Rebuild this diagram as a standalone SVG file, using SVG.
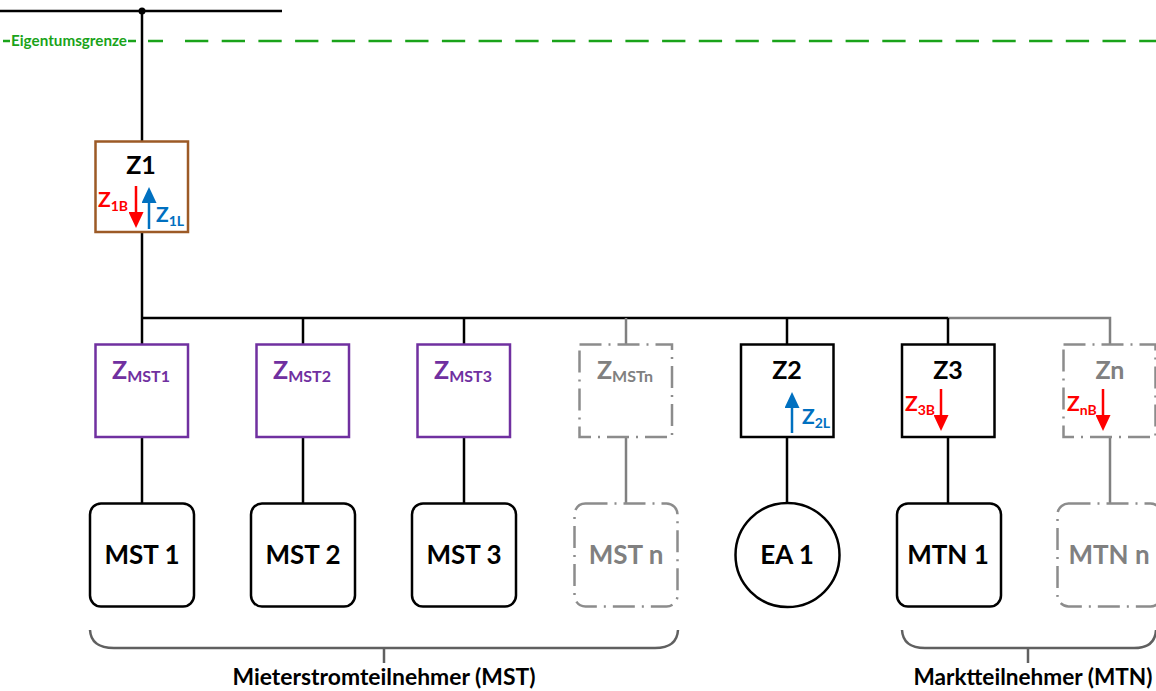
<svg xmlns="http://www.w3.org/2000/svg" width="1156" height="691" viewBox="0 0 1156 691">
<defs>
<marker id="ah-red" viewBox="0 0 16 15" refX="0" refY="7.5" markerWidth="16" markerHeight="15" markerUnits="userSpaceOnUse" orient="auto"><path d="M0,0 L16,7.5 L0,15 Z" fill="#FF0000"/></marker>
<marker id="ah-blue" viewBox="0 0 16 15" refX="0" refY="7.5" markerWidth="16" markerHeight="15" markerUnits="userSpaceOnUse" orient="auto"><path d="M0,0 L16,7.5 L0,15 Z" fill="#0070C0"/></marker>
</defs>
<style>
text{font-family:Lato,"Liberation Sans",sans-serif;font-weight:bold}
.ln{stroke:#000;stroke-width:2.5;fill:none}
.gl{stroke:#808080;stroke-width:2.5;fill:none}
.box{fill:#fff;stroke:#000;stroke-width:2.5}
.mst{fill:#fff;stroke:#7030A0;stroke-width:2.5}
.dash{fill:#fff;stroke:#8C8C8C;stroke-width:2.5;stroke-dasharray:22 7 2 7}
.lbl{font-size:25px;text-anchor:middle}
.big{font-size:26px;text-anchor:middle}
.zs{font-size:25px;text-anchor:middle}
.zsub{font-size:16px}
.sl{font-size:21px}
.sub{font-size:14px}
.red{fill:#FF0000}
.blue{fill:#0070C0}
.purple{fill:#7030A0}
.grey{fill:#808080}
.ar{stroke-width:2.5;fill:none}
.brace{stroke:#606060;stroke-width:2.5;fill:none}
.cap{font-size:22px;text-anchor:middle}
</style>

<g id="connectors">
<line class="ln" x1="0" y1="11" x2="282" y2="11"/>
<circle cx="142" cy="11" r="3.5" fill="#000"/>
<line class="ln" x1="142" y1="11" x2="142" y2="142"/>
<line class="ln" x1="142" y1="232" x2="142" y2="345"/>
<line class="ln" x1="141" y1="318" x2="948" y2="318"/>
<polyline class="gl" points="948,318 1110,318 1110,345"/>
<line class="ln" x1="303" y1="318" x2="303" y2="345"/>
<line class="ln" x1="464" y1="318" x2="464" y2="345"/>
<line class="gl" x1="626" y1="318" x2="626" y2="345"/>
<line class="ln" x1="787" y1="318" x2="787" y2="345"/>
<line class="ln" x1="948" y1="318" x2="948" y2="345"/>
<line class="ln" x1="142" y1="437" x2="142" y2="503"/>
<line class="ln" x1="303" y1="437" x2="303" y2="503"/>
<line class="ln" x1="464" y1="437" x2="464" y2="503"/>
<line class="gl" x1="626" y1="437" x2="626" y2="503"/>
<line class="ln" x1="787" y1="437" x2="787" y2="503"/>
<line class="ln" x1="948" y1="437" x2="948" y2="503"/>
<line class="gl" x1="1110" y1="437" x2="1110" y2="503"/>
</g>

<g id="eigentumsgrenze">
<line x1="3" y1="41" x2="10" y2="41" stroke="#1AA31A" stroke-width="2.5"/>
<line x1="128" y1="41" x2="136" y2="41" stroke="#1AA31A" stroke-width="2.5"/>
<line x1="148" y1="41" x2="163" y2="41" stroke="#1AA31A" stroke-width="2.5"/>
<line x1="185" y1="41" x2="1156" y2="41" stroke="#1AA31A" stroke-width="2.5" stroke-dasharray="23.3 13.4"/>
<text x="11" y="46" font-size="15.5" fill="#1AA31A" textLength="116" lengthAdjust="spacingAndGlyphs">Eigentumsgrenze</text>
</g>

<g id="Z1">
<rect x="95.5" y="141.5" width="92.5" height="90.5" fill="#fff" stroke="#9C5A26" stroke-width="2.5"/>
<text class="lbl" x="141" y="174">Z1</text>
<line class="ar" x1="136" y1="186" x2="136" y2="212" stroke="#FF0000" marker-end="url(#ah-red)"/>
<line class="ar" x1="149" y1="229" x2="149" y2="203" stroke="#0070C0" marker-end="url(#ah-blue)"/>
<text class="red sl" x="98" y="207">Z<tspan class="sub" dy="4">1B</tspan></text>
<text class="blue sl" x="156" y="222">Z<tspan class="sub" dy="4">1L</tspan></text>
</g>

<g id="ZMST1">
<rect class="mst" x="95.5" y="344.5" width="92.5" height="92.5"/>
<text class="purple zs" x="141" y="379">Z<tspan class="zsub" dy="3">MST1</tspan></text>
</g>
<g id="ZMST2">
<rect class="mst" x="256.5" y="344.5" width="92.5" height="92.5"/>
<text class="purple zs" x="302" y="379">Z<tspan class="zsub" dy="3">MST2</tspan></text>
</g>
<g id="ZMST3">
<rect class="mst" x="417.5" y="344.5" width="92.5" height="92.5"/>
<text class="purple zs" x="463" y="379">Z<tspan class="zsub" dy="3">MST3</tspan></text>
</g>
<g id="ZMSTn">
<rect class="dash" x="579.5" y="344.5" width="92.5" height="92.5"/>
<text class="grey zs" x="625" y="379">Z<tspan class="zsub" dy="3">MSTn</tspan></text>
</g>
<g id="Z2">
<rect class="box" x="741" y="344.5" width="92.5" height="92.5"/>
<text class="lbl" x="787" y="379">Z2</text>
<line class="ar" x1="792" y1="433" x2="792" y2="408" stroke="#0070C0" marker-end="url(#ah-blue)"/>
<text class="blue sl" x="802" y="424">Z<tspan class="sub" dy="4">2L</tspan></text>
</g>
<g id="Z3">
<rect class="box" x="902" y="344.5" width="92.5" height="92.5"/>
<text class="lbl" x="948" y="379">Z3</text>
<line class="ar" x1="941" y1="389" x2="941" y2="415" stroke="#FF0000" marker-end="url(#ah-red)"/>
<text class="red sl" x="905" y="411">Z<tspan class="sub" dy="4">3B</tspan></text>
</g>
<g id="Zn">
<rect class="dash" x="1063.5" y="344.5" width="92" height="92.5"/>
<text class="lbl grey" x="1110" y="379">Zn</text>
<line class="ar" x1="1103" y1="389" x2="1103" y2="415" stroke="#FF0000" marker-end="url(#ah-red)"/>
<text class="red sl" x="1067" y="411">Z<tspan class="sub" dy="4">nB</tspan></text>
</g>

<g id="MST1">
<rect class="box" x="90" y="503.5" width="104" height="103" rx="11"/>
<text class="big" x="142" y="564">MST 1</text>
</g>
<g id="MST2">
<rect class="box" x="251" y="503.5" width="104" height="103" rx="11"/>
<text class="big" x="303" y="564">MST 2</text>
</g>
<g id="MST3">
<rect class="box" x="412" y="503.5" width="104" height="103" rx="11"/>
<text class="big" x="464" y="564">MST 3</text>
</g>
<g id="MSTn">
<rect class="dash" x="574.5" y="503.5" width="103" height="103" rx="11"/>
<text class="big grey" x="626" y="564">MST n</text>
</g>
<g id="EA1">
<circle cx="787.5" cy="555" r="52" fill="#fff" stroke="#000" stroke-width="2.5"/>
<text class="big" x="787" y="564">EA 1</text>
</g>
<g id="MTN1">
<rect class="box" x="897" y="503.5" width="104" height="103" rx="11"/>
<text class="big" x="948" y="564">MTN 1</text>
</g>
<g id="MTNn">
<rect class="dash" x="1057.5" y="503.5" width="104" height="103" rx="11"/>
<text class="big grey" x="1109" y="564">MTN n</text>
</g>

<g id="brace-MST">
<path class="brace" d="M90,630 Q91,648 114,648 H655 Q677,648 678,630 M384,648 V663"/>
<text class="cap" x="384" y="685" textLength="303" lengthAdjust="spacingAndGlyphs">Mieterstromteilnehmer (MST)</text>
</g>
<g id="brace-MTN">
<path class="brace" d="M902,630 Q903,648 925,648 H1134 Q1155,648 1156,630 M1028,648 V663"/>
<text class="cap" x="1033" y="685" textLength="239" lengthAdjust="spacingAndGlyphs">Marktteilnehmer (MTN)</text>
</g>
</svg>
